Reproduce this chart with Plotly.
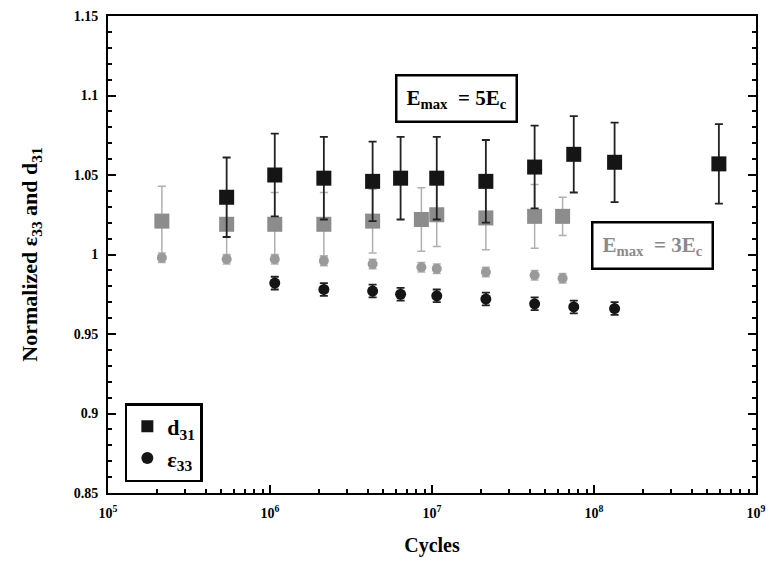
import plotly.graph_objects as go

# ---- data ----
x_d31_5 = [5.4e5, 1.07e6, 2.15e6, 4.3e6, 6.4e6, 1.07e7, 2.15e7, 4.3e7, 7.5e7, 1.34e8, 5.9e8]
d31_5 = [1.036, 1.050, 1.048, 1.046, 1.048, 1.048, 1.046, 1.055, 1.063, 1.058, 1.057]
d31_5_err = [0.025, 0.026, 0.026, 0.025, 0.026, 0.026, 0.026, 0.026, 0.024, 0.025, 0.025]

x_d31_3 = [2.15e5, 5.4e5, 1.07e6, 2.15e6, 4.3e6, 8.6e6, 1.07e7, 2.15e7, 4.3e7, 6.4e7]
d31_3 = [1.021, 1.019, 1.019, 1.019, 1.021, 1.022, 1.025, 1.023, 1.024, 1.024]
d31_3_err = [0.022, 0.020, 0.020, 0.020, 0.020, 0.020, 0.020, 0.020, 0.020, 0.012]

x_eps_5 = [1.07e6, 2.15e6, 4.3e6, 6.4e6, 1.07e7, 2.15e7, 4.3e7, 7.5e7, 1.34e8]
eps_5 = [0.982, 0.978, 0.977, 0.975, 0.974, 0.972, 0.969, 0.967, 0.966]
eps_5_err = [0.004, 0.004, 0.004, 0.004, 0.004, 0.004, 0.004, 0.004, 0.004]

x_eps_3 = [2.15e5, 5.4e5, 1.07e6, 2.15e6, 4.3e6, 8.6e6, 1.07e7, 2.15e7, 4.3e7, 6.4e7]
eps_3 = [0.998, 0.997, 0.997, 0.996, 0.994, 0.992, 0.991, 0.989, 0.987, 0.985]
eps_3_err = [0.003, 0.003, 0.003, 0.003, 0.003, 0.003, 0.003, 0.003, 0.003, 0.003]

x_tickvals = [1e5, 1e6, 1e7, 1e8, 1e9]
x_ticktext = ["10<sup>5</sup>", "10<sup>6</sup>", "10<sup>7</sup>", "10<sup>8</sup>", "10<sup>9</sup>"]
y_tickvals = [0.85, 0.9, 0.95, 1.0, 1.05, 1.1, 1.15]
y_ticktext = ["0.85", "0.9", "0.95", "1", "1.05", "1.1", "1.15"]

x_minor = [m * d for d in (1e5, 1e6, 1e7, 1e8) for m in range(2, 10)]

SERIF = "Liberation Serif, DejaVu Serif, serif"
BLACK = "#151515"
GRAY_SQ = "#8c8c8c"
GRAY_CI = "#9a9a9a"

fig = go.Figure()

# gray (3Ec) series first so black sits on top
fig.add_trace(go.Scatter(
    x=x_d31_3, y=d31_3, mode="markers", showlegend=False,
    marker=dict(symbol="square", size=15, color=GRAY_SQ),
    error_y=dict(type="data", array=d31_3_err, color="#b0b0b0", thickness=1.5, width=4)))
fig.add_trace(go.Scatter(
    x=x_eps_3, y=eps_3, mode="markers", showlegend=False,
    marker=dict(symbol="circle", size=10, color=GRAY_CI),
    error_y=dict(type="data", array=eps_3_err, color="#b0b0b0", thickness=1.5, width=4)))

fig.add_trace(go.Scatter(
    x=x_d31_5, y=d31_5, mode="markers", name="d<sub>31</sub>",
    marker=dict(symbol="square", size=15, color=BLACK),
    error_y=dict(type="data", array=d31_5_err, color="#222222", thickness=1.8, width=4)))
fig.add_trace(go.Scatter(
    x=x_eps_5, y=eps_5, mode="markers", name="ε<sub>33</sub>",
    marker=dict(symbol="circle", size=11, color=BLACK),
    error_y=dict(type="data", array=eps_5_err, color="#222222", thickness=1.8, width=4)))

fig.update_layout(
    width=775, height=563,
    margin=dict(l=108, r=9, t=16, b=70),
    paper_bgcolor="white", plot_bgcolor="white",
    font=dict(family=SERIF, color="black"),
    legend=dict(
        x=0.026, y=0.023, xanchor="left", yanchor="bottom",
        bordercolor="black", borderwidth=2.5, bgcolor="white",
        font=dict(family=SERIF, size=22, weight="bold"),
        itemsizing="constant"),
    annotations=[
        dict(x=7.15, y=1.098, xref="x", yref="y",
             text="E<sub>max</sub>  = 5E<sub>c</sub>", showarrow=False,
             font=dict(family=SERIF, size=21, weight="bold", color="black"),
             bordercolor="black", borderwidth=2.5, borderpad=9, bgcolor="white"),
        dict(x=8.36, y=1.0057, xref="x", yref="y",
             text="E<sub>max</sub>  = 3E<sub>c</sub>", showarrow=False,
             font=dict(family=SERIF, size=21, weight="bold", color="#8a8a8a"),
             bordercolor="black", borderwidth=2.5, borderpad=9, bgcolor="white"),
    ],
)

fig.update_xaxes(
    type="log", range=[5, 9],
    tickvals=x_tickvals, ticktext=x_ticktext,
    ticks="inside", ticklen=8, tickwidth=1.5, tickcolor="black",
    minor=dict(tickmode="array", tickvals=x_minor, ticks="inside", ticklen=4,
               tickcolor="black", showgrid=False),
    showline=True, linecolor="black", linewidth=2, mirror=True,
    showgrid=False, zeroline=False, ticklabelstandoff=6,
    tickfont=dict(family=SERIF, size=14, weight="bold"),
    title=dict(text="Cycles", font=dict(family=SERIF, size=20, weight="bold"), standoff=18),
)
fig.update_yaxes(
    range=[0.85, 1.15],
    tickvals=y_tickvals, ticktext=y_ticktext,
    ticks="inside", ticklen=8, tickwidth=1.5, tickcolor="black",
    minor=dict(dtick=0.01, tick0=0.85, ticks="inside", ticklen=4, tickcolor="black", showgrid=False),
    showline=True, linecolor="black", linewidth=2, mirror="ticks",
    showgrid=False, zeroline=False, ticklabelstandoff=5,
    tickfont=dict(family=SERIF, size=14, weight="bold"),
    title=dict(text="Normalized ε<sub>33</sub> and d<sub>31</sub>",
               font=dict(family=SERIF, size=22, weight="bold"), standoff=30),
)

fig.write_html("out.html")
